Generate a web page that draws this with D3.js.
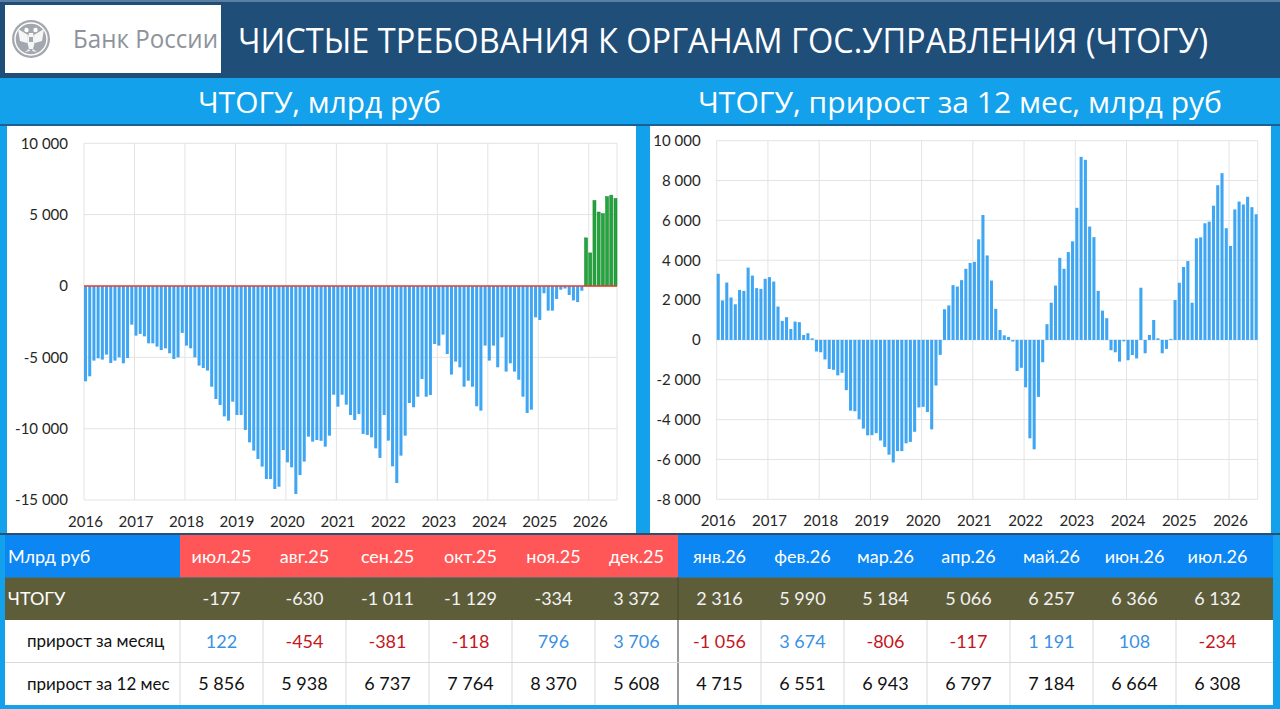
<!DOCTYPE html>
<html><head><meta charset="utf-8">
<script src="https://cdn.jsdelivr.net/npm/d3@7"></script>
<style>body{margin:0;background:#12a1ea;overflow:hidden} svg{display:block}</style>
</head><body><svg id="c" width="1280" height="709"></svg>
<script>
// ---------------- DATA ----------------
const years = ["2016","2017","2018","2019","2020","2021","2022","2023","2024","2025","2026"];

// ЧТОГУ, млрд руб (monthly, Jan 2016 – Jul 2026)
const ctoguLevel = [
  -6680,-6330,-5230,-5070,-5160,-4810,-5400,-5230,-5000,-5420,-5050,-2710,
  -3480,-3360,-3530,-4020,-4020,-4250,-4490,-4370,-4720,-5120,-5000,-3290,
  -4180,-4370,-5000,-5580,-5750,-5930,-7060,-7920,-8340,-9140,-9440,-8110,
  -9040,-9040,-10090,-10960,-11540,-12130,-12660,-13530,-13530,-14230,-14070,-11500,
  -12360,-12710,-14580,-13250,-12310,-10560,-10910,-10800,-10850,-11260,-10490,-7620,
  -8460,-7620,-8320,-9040,-9390,-8970,-10370,-10440,-10610,-11380,-12050,-9040,
  -10840,-12640,-13810,-11890,-10490,-8200,-8500,-7760,-6520,-7760,-7640,-4070,
  -4180,-3410,-4770,-6210,-5300,-5700,-7060,-6640,-7060,-8430,-8740,-4180,
  -5230,-4180,-5700,-3600,-6000,-5420,-6000,-6570,-7760,-8900,-8670,-2200,
  -2380,-510,-1730,-1730,-910,-260,-177,-630,-1011,-1129,-334,3372,
  2316,5990,5184,5066,6257,6366,6132
];

// ЧТОГУ, прирост за 12 мес, млрд руб
const ctoguYoY = [
  3320,1980,2880,2130,1790,2510,2460,3630,3230,2600,2560,3070,
  3150,2930,1675,955,1140,550,920,890,250,335,80,-580,
  -620,-980,-1460,-1500,-1780,-1650,-2520,-3550,-3580,-3980,-4450,-4790,
  -4780,-4680,-5050,-5370,-5760,-6150,-5580,-5580,-5190,-5120,-4610,-3390,
  -3360,-3620,-4490,-2290,-750,1540,1730,2750,2680,3000,3570,3860,
  3920,5050,6270,4240,2980,1560,500,230,150,-80,-1560,-1400,
  -2380,-4940,-5490,-2860,-1120,790,1870,2730,4120,3570,4410,4950,
  6630,9190,9040,5690,5160,2460,1470,1090,-520,-620,-1090,-70,
  -1020,-760,-930,2620,-670,250,1000,80,-670,-450,50,2000,
  2870,3660,3960,1870,5100,5150,5856,5938,6737,7764,8370,5608,
  4715,6551,6943,6797,7184,6664,6308
];

const leftTicks  = [-15000,-10000,-5000,0,5000,10000];
const rightTicks = [-8000,-6000,-4000,-2000,0,2000,4000,6000,8000,10000];

// table
const tableMonths = ["июл.25","авг.25","сен.25","окт.25","ноя.25","дек.25","янв.26","фев.26","мар.26","апр.26","май.26","июн.26","июл.26"];
const tableLevel  = [-177,-630,-1011,-1129,-334,3372,2316,5990,5184,5066,6257,6366,6132];
const tableMoM    = [122,-454,-381,-118,796,3706,-1056,3674,-806,-117,1191,108,-234];
const tableYoY    = [5856,5938,6737,7764,8370,5608,4715,6551,6943,6797,7184,6664,6308];
const rowLabels   = ["Млрд руб","ЧТОГУ","прирост за месяц","прирост за 12 мес"];

const mainTitle = "ЧИСТЫЕ ТРЕБОВАНИЯ К ОРГАНАМ ГОС.УПРАВЛЕНИЯ (ЧТОГУ)";
const leftTitle = "ЧТОГУ, млрд руб";
const rightTitle = "ЧТОГУ, прирост за 12 мес, млрд руб";
const bankName = "Банк России";

// ---------------- RENDER ----------------
const svg = d3.select("#c");
const FONT = "Lato, 'Open Sans', sans-serif";
const TFONT = "'Open Sans', Lato, sans-serif";
const fmt = d3.formatLocale({decimal:",", thousands:" ", grouping:[3], currency:["",""], minus:"-"}).format(",d");
const monthKeys = years.flatMap(y => d3.range(1,13).map(m => y + "-" + m)).slice(0, ctoguLevel.length);

// background
svg.append("rect").attr("width",1280).attr("height",709).attr("fill","#12a1ea");
// header
svg.append("rect").attr("x",0).attr("y",0).attr("width",1280).attr("height",78).attr("fill","#1f4e79");
svg.append("rect").attr("x",0).attr("y",0).attr("width",1280).attr("height",2).attr("fill","#5a7fa3");
svg.append("rect").attr("x",5).attr("y",5).attr("width",216).attr("height",68).attr("fill","#ffffff");

// emblem
const em = svg.append("g").attr("transform","translate(31,39)");
em.append("circle").attr("r",19).attr("fill","#a3a7ae");
em.append("circle").attr("r",16).attr("fill","none").attr("stroke","#ffffff").attr("stroke-width",1.4);
em.append("path").attr("fill","#ffffff").attr("opacity",0.9)
  .attr("d","M-3,-9 L-6,-12 L-4,-8 Z M3,-9 L6,-12 L4,-8 Z M-2,-6 L2,-6 L4,2 L2,10 L-2,10 L-4,2 Z M-3,-4 L-13,-10 L-11,2 L-4,4 Z M3,-4 L13,-10 L11,2 L4,4 Z M-2,10 L-6,13 L-1,12 Z M2,10 L6,13 L1,12 Z");
em.append("circle").attr("cx",-4.5).attr("cy",-9).attr("r",2.2).attr("fill","#ffffff");
em.append("circle").attr("cx",4.5).attr("cy",-9).attr("r",2.2).attr("fill","#ffffff");
em.append("rect").attr("x",-2).attr("y",-2).attr("width",4).attr("height",5).attr("fill","#a3a7ae");

svg.append("text").attr("x",73).attr("y",48).text(bankName)
  .attr("font-family",TFONT).attr("font-size",25).attr("fill","#8e939b")
  .attr("textLength",145).attr("lengthAdjust","spacingAndGlyphs");

svg.append("text").attr("x",238).attr("y",53).text(mainTitle)
  .attr("font-family",TFONT).attr("font-size",34).attr("fill","#ffffff")
  .attr("textLength",970).attr("lengthAdjust","spacingAndGlyphs");

// subtitles
svg.append("text").attr("x",198).attr("y",113).text(leftTitle)
  .attr("font-family",TFONT).attr("font-size",30).attr("fill","#ffffff")
  .attr("textLength",243).attr("lengthAdjust","spacingAndGlyphs");
svg.append("text").attr("x",698).attr("y",113).text(rightTitle)
  .attr("font-family",TFONT).attr("font-size",30).attr("fill","#ffffff")
  .attr("textLength",524).attr("lengthAdjust","spacingAndGlyphs");

// panels
svg.append("rect").attr("x",0).attr("y",124).attr("width",1280).attr("height",2).attr("fill","#1b5f93");
svg.append("rect").attr("x",7).attr("y",126).attr("width",629).attr("height",408).attr("fill","#ffffff");
svg.append("rect").attr("x",650).attr("y",126).attr("width",621).attr("height",408).attr("fill","#ffffff");

function drawChart(opt) {
  const g = svg.append("g");
  const x = d3.scaleBand().domain(monthKeys).range(opt.xRange).paddingInner(0.28).paddingOuter(0).align(0);
  const y = d3.scaleLinear().domain(opt.yDomain).range(opt.yRange);
  const janKeys = years.map(yr => yr + "-1");
  const [x0, x1] = opt.xRange;
  // grid
  g.append("g").selectAll("line").data(opt.ticks).join("line")
    .attr("x1",x0).attr("x2",x1).attr("y1",d=>y(d)).attr("y2",d=>y(d))
    .attr("stroke","#e3e3e3").attr("stroke-width",1);
  g.append("g").selectAll("line").data(janKeys).join("line")
    .attr("x1",d=>x(d)).attr("x2",d=>x(d)).attr("y1",opt.yRange[0]).attr("y2",opt.yRange[1])
    .attr("stroke","#e3e3e3").attr("stroke-width",1);
  g.append("line").attr("x1",x1).attr("x2",x1).attr("y1",opt.yRange[0]).attr("y2",opt.yRange[1])
    .attr("stroke","#e3e3e3");
  // bars
  g.append("g").selectAll("rect").data(opt.values).join("rect")
    .attr("x",(d,i)=>x(monthKeys[i]))
    .attr("width",x.bandwidth())
    .attr("y",d=>Math.min(y(d),y(0)))
    .attr("height",d=>Math.abs(y(d)-y(0)))
    .attr("fill",d=> (opt.greenPositive && d>0) ? "#22a53c" : "#3fa6f3")
    .attr("stroke",d=> (opt.greenPositive && d>0) ? "#17802c" : "none")
    .attr("stroke-width",0.5);
  if (opt.zeroLine) {
    g.append("line").attr("x1",x0).attr("x2",x1).attr("y1",y(0)).attr("y2",y(0))
      .attr("stroke","#ee3b36").attr("stroke-width",1.4);
  }
  // axes
  const ya = g.append("g").attr("transform",`translate(${x0},0)`)
    .call(d3.axisLeft(y).tickValues(opt.ticks).tickSize(0).tickPadding(16).tickFormat(fmt));
  ya.select(".domain").remove();
  ya.selectAll("text").attr("font-family",FONT).attr("font-size",15).attr("fill","#262626");
  const xa = g.append("g").attr("transform",`translate(0,${opt.yRange[0]})`)
    .call(d3.axisBottom(x).tickValues(janKeys).tickSize(0).tickPadding(16).tickFormat(k=>k.split("-")[0]));
  xa.select(".domain").remove();
  xa.selectAll("text").attr("font-family",FONT).attr("font-size",15).attr("fill","#262626");
}

drawChart({values: ctoguLevel, xRange:[84,617], yDomain:[-15000,10000], yRange:[500,143.3],
  ticks:leftTicks, zeroLine:true, greenPositive:true});
drawChart({values: ctoguYoY, xRange:[716.7,1257.7], yDomain:[-8000,10000], yRange:[499.3,140.7],
  ticks:rightTicks, zeroLine:false, greenPositive:false});

// ---------------- TABLE ----------------
const tb = svg.append("g");
const cx = d3.scaleBand().domain(tableMonths).range([180,1259]);
const rowY = d3.scaleBand().domain(rowLabels).range([535,705]);
const rh = rowY.bandwidth();
svg.append("rect").attr("x",0).attr("y",533).attr("width",1280).attr("height",2).attr("fill","#2b4f6f");

// header row
tb.append("rect").attr("x",5).attr("y",rowY(rowLabels[0])).attr("width",175).attr("height",rh).attr("fill","#0b86f3");
tb.selectAll("rect.hd").data(tableMonths).join("rect").attr("class","hd")
  .attr("x",d=>cx(d)).attr("y",rowY(rowLabels[0]))
  .attr("width",(d,i)=> i===tableMonths.length-1 ? 1273-cx(d) : cx.step()+0.5)
  .attr("height",rh)
  .attr("fill",d=> d.endsWith(".25") ? "#ff5757" : "#0b86f3");
// olive row
tb.append("rect").attr("x",5).attr("y",rowY(rowLabels[1])).attr("width",1268).attr("height",rh).attr("fill","#5e5d3a");
// white rows
tb.append("rect").attr("x",5).attr("y",rowY(rowLabels[2])).attr("width",1268).attr("height",rh*2).attr("fill","#ffffff");
// grid lines white rows
tb.selectAll("line.v").data(tableMonths.slice(1)).join("line").attr("class","v")
  .attr("x1",d=>cx(d)).attr("x2",d=>cx(d))
  .attr("y1",rowY(rowLabels[2])).attr("y2",705)
  .attr("stroke",d=> d==="янв.26" ? "#555555" : "#d9d9d9").attr("stroke-width",d=> d==="янв.26" ? 1.2 : 1);
tb.append("line").attr("x1",cx(tableMonths[0])).attr("x2",cx(tableMonths[0]))
  .attr("y1",rowY(rowLabels[2])).attr("y2",705).attr("stroke","#d9d9d9");
tb.append("line").attr("x1",cx("янв.26")).attr("x2",cx("янв.26"))
  .attr("y1",rowY(rowLabels[1])).attr("y2",rowY(rowLabels[2])).attr("stroke","#4a4a2c").attr("stroke-width",1.2);
tb.append("line").attr("x1",5).attr("x2",1273).attr("y1",rowY(rowLabels[3])).attr("y2",rowY(rowLabels[3])).attr("stroke","#d9d9d9");

// row labels
tb.selectAll("text.rl").data(rowLabels).join("text").attr("class","rl")
  .attr("x",(d,i)=> i<2 ? 8 : 27)
  .attr("y",d=>rowY(d)+rh/2).attr("dy","0.35em")
  .text(d=>d).attr("font-family",FONT).attr("font-size",(d,i)=> i<2 ? 18 : 17)
  .attr("fill",(d,i)=> i<2 ? "#ffffff" : "#111111");

function rowText(vals, rowIdx, colorFn, isText) {
  tb.append("g").selectAll("text").data(vals).join("text")
    .attr("x",(d,i)=>cx(tableMonths[i]) + cx.bandwidth()/2)
    .attr("y",rowY(rowLabels[rowIdx]) + rh/2).attr("dy","0.35em")
    .attr("text-anchor","middle")
    .text(d=> isText ? d : fmt(d))
    .attr("font-family",FONT).attr("font-size",18)
    .attr("fill",colorFn);
}
rowText(tableMonths, 0, ()=>"#ffffff", true);
rowText(tableLevel, 1, ()=>"#f2f2f2", false);
rowText(tableMoM, 2, d=> d<0 ? "#c4161c" : "#3a91e4", false);
rowText(tableYoY, 3, ()=>"#111111", false);
</script>
</body></html>
